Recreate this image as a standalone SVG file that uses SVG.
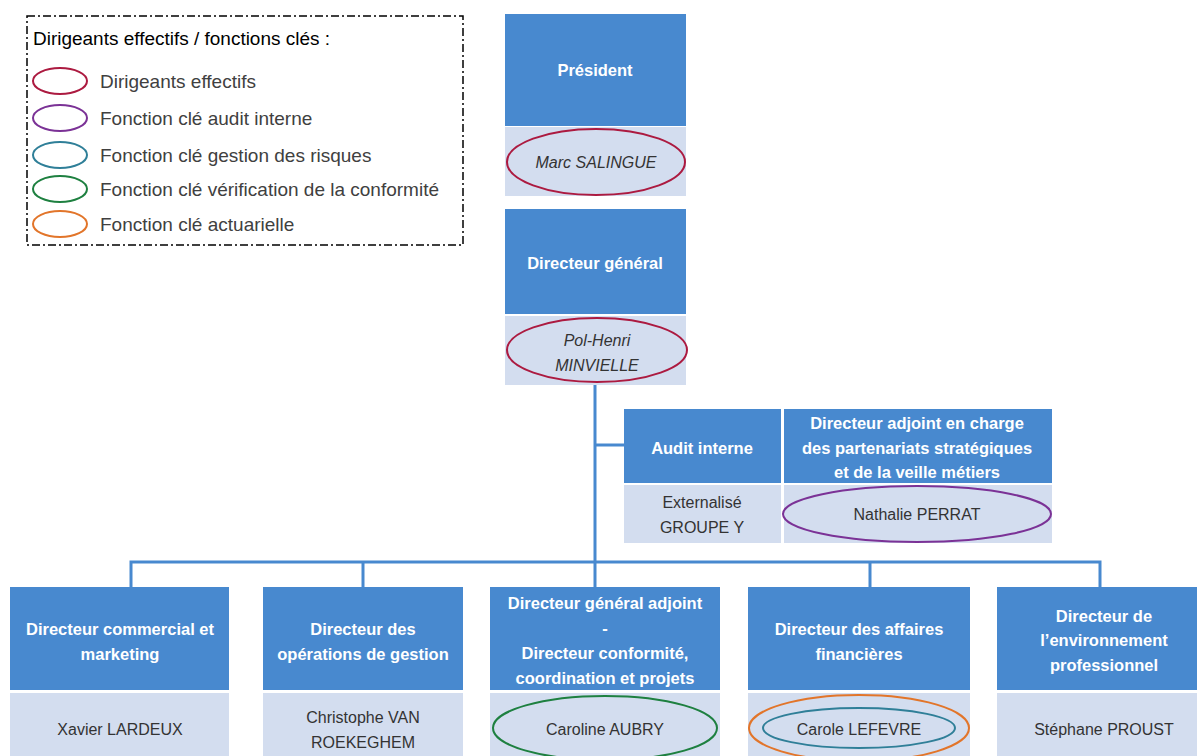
<svg xmlns="http://www.w3.org/2000/svg" width="1197" height="756" viewBox="0 0 1197 756">
<style>
.hd{fill:#4889CF}
.lt{fill:#D3DDEF}
.ht{font-family:"Liberation Sans",Arial,sans-serif;font-weight:bold;font-size:16.5px;fill:#FFFFFF;text-anchor:middle}
.nm{font-family:"Liberation Sans",Arial,sans-serif;font-size:16px;fill:#333333;text-anchor:middle}
.it{font-style:italic}
.lg{font-family:"Liberation Sans",Arial,sans-serif;font-size:19px;fill:#404040}
.el{fill:none;stroke-width:2}
.red{stroke:#AC1A40}.pur{stroke:#7B3296}.tea{stroke:#2F7F98}.grn{stroke:#1E8040}.org{stroke:#E2752A}
.cn{fill:none;stroke:#4889CF;stroke-width:3}
</style>
<rect width="1197" height="756" fill="#FFFFFF"/>
<g id="legend">
<rect x="27" y="16" width="436" height="229" fill="none" stroke="#000" stroke-width="1.5" stroke-dasharray="8 3 2 3"/>
<text x="33" y="45" font-family="Liberation Sans,Arial,sans-serif" font-size="18" fill="#000" textLength="297" lengthAdjust="spacingAndGlyphs">Dirigeants effectifs / fonctions clés :</text>
<ellipse class="el red" cx="60" cy="81" rx="27" ry="13"/>
<text class="lg" x="100" y="88">Dirigeants effectifs</text>
<ellipse class="el pur" cx="60" cy="118" rx="27" ry="13"/>
<text class="lg" x="100" y="125">Fonction clé audit interne</text>
<ellipse class="el tea" cx="60" cy="155" rx="27" ry="13"/>
<text class="lg" x="100" y="162">Fonction clé gestion des risques</text>
<ellipse class="el grn" cx="60" cy="189" rx="27" ry="13"/>
<text class="lg" x="100" y="196">Fonction clé vérification de la conformité</text>
<ellipse class="el org" cx="60" cy="224" rx="27" ry="13"/>
<text class="lg" x="100" y="231">Fonction clé actuarielle</text>
</g>
<g id="connectors">
<path class="cn" d="M595 385 V587 M595 445 H624 M131 587 V562 H1100 V587 M363 562 V587 M870 562 V587"/>
</g>
<g id="president">
<rect class="hd" x="505" y="14" width="181" height="112"/>
<rect class="lt" x="505" y="127" width="181" height="69"/>
<text class="ht" x="595" y="76">Président</text>
<ellipse class="el red" cx="596" cy="162" rx="89" ry="33"/>
<text class="nm it" x="596" y="168">Marc SALINGUE</text>
</g>
<g id="dg">
<rect class="hd" x="505" y="209" width="181" height="105"/>
<rect class="lt" x="505" y="316" width="181" height="69"/>
<text class="ht" x="595" y="269">Directeur général</text>
<ellipse class="el red" cx="597" cy="350" rx="90" ry="32"/>
<text class="nm it" x="597" y="346">Pol-Henri</text>
<text class="nm it" x="597" y="371">MINVIELLE</text>
</g>
<g id="audit">
<rect class="hd" x="624" y="409" width="157" height="74"/>
<rect class="lt" x="624" y="485" width="157" height="58"/>
<text class="ht" x="702" y="454">Audit interne</text>
<text class="nm" x="702" y="508">Externalisé</text>
<text class="nm" x="702" y="533">GROUPE Y</text>
</g>
<g id="adjoint">
<rect class="hd" x="784" y="409" width="268" height="74"/>
<rect class="lt" x="784" y="485" width="268" height="58"/>
<text class="ht" x="917" y="429">Directeur adjoint  en charge</text>
<text class="ht" x="917" y="454">des partenariats stratégiques</text>
<text class="ht" x="917" y="478">et de la veille métiers</text>
<ellipse class="el pur" cx="917" cy="514" rx="134" ry="28"/>
<text class="nm" x="917" y="520">Nathalie PERRAT</text>
</g>
<g id="commercial">
<rect class="hd" x="10" y="587" width="219" height="103"/>
<rect class="lt" x="10" y="693" width="219" height="63"/>
<text class="ht" x="120" y="635">Directeur commercial et</text>
<text class="ht" x="120" y="660">marketing</text>
<text class="nm" x="120" y="735">Xavier LARDEUX</text>
</g>
<g id="operations">
<rect class="hd" x="263" y="587" width="200" height="103"/>
<rect class="lt" x="263" y="693" width="200" height="63"/>
<text class="ht" x="363" y="635">Directeur des</text>
<text class="ht" x="363" y="660">opérations de gestion</text>
<text class="nm" x="363" y="723">Christophe VAN</text>
<text class="nm" x="363" y="748">ROEKEGHEM</text>
</g>
<g id="dga">
<rect class="hd" x="490" y="587" width="230" height="103"/>
<rect class="lt" x="490" y="693" width="230" height="63"/>
<text class="ht" x="605" y="609">Directeur général adjoint</text>
<text class="ht" x="605" y="634">-</text>
<text class="ht" x="605" y="659">Directeur conformité,</text>
<text class="ht" x="605" y="684">coordination  et projets</text>
<ellipse class="el grn" cx="605" cy="728" rx="112" ry="32"/>
<text class="nm" x="605" y="735">Caroline AUBRY</text>
</g>
<g id="financier">
<rect class="hd" x="748" y="587" width="222" height="103"/>
<rect class="lt" x="748" y="693" width="222" height="63"/>
<text class="ht" x="859" y="635">Directeur des affaires</text>
<text class="ht" x="859" y="660">financières</text>
<ellipse class="el org" cx="859" cy="728" rx="110" ry="33"/>
<ellipse class="el tea" cx="859" cy="728" rx="96" ry="20"/>
<text class="nm" x="859" y="735">Carole LEFEVRE</text>
</g>
<g id="environnement">
<rect class="hd" x="997" y="587" width="200" height="103"/>
<rect class="lt" x="997" y="693" width="200" height="63"/>
<text class="ht" x="1104" y="622">Directeur de</text>
<text class="ht" x="1104" y="646">l’environnement</text>
<text class="ht" x="1104" y="671">professionnel</text>
<text class="nm" x="1104" y="735">Stéphane PROUST</text>
</g>
</svg>
